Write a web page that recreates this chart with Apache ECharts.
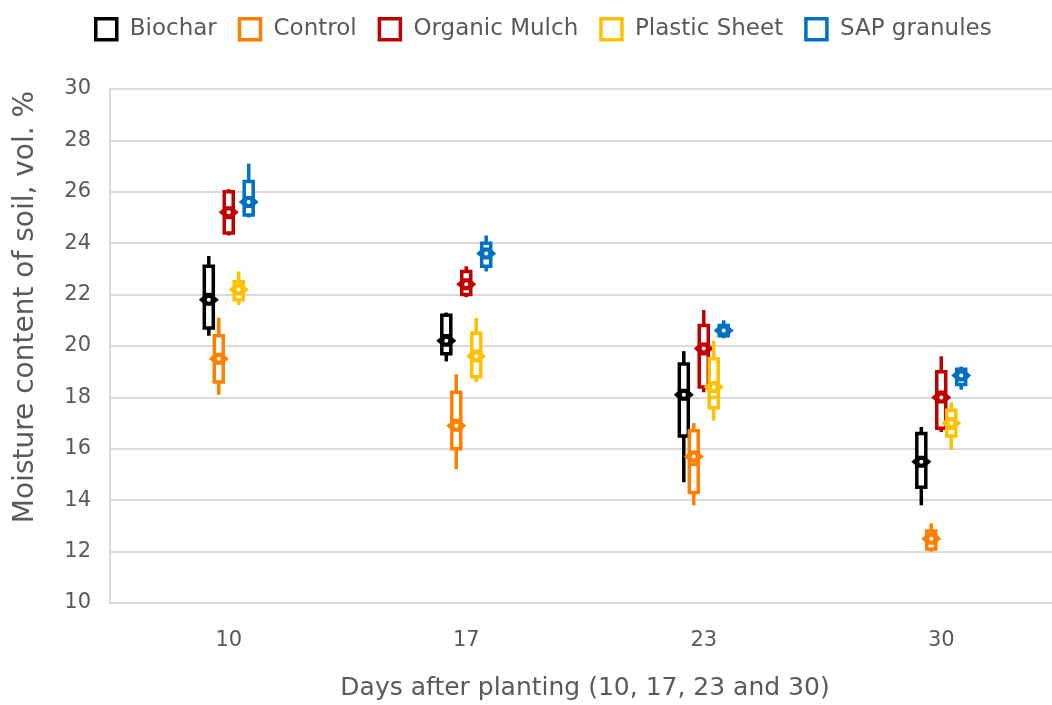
<!DOCTYPE html>
<html><head><meta charset="utf-8">
<script src="https://cdn.jsdelivr.net/npm/echarts@6/dist/echarts.min.js"></script>
<style>html,body{margin:0;padding:0;background:#fff}#c{width:1052px;height:705px}</style>
</head><body><div id="c"></div>
<script>
// Days after planting (category axis)
const categories = ['10', '17', '23', '30'];
const seriesNames = ['Biochar', 'Control', 'Organic Mulch', 'Plastic Sheet', 'SAP granules'];
const colors = ['#000000', '#FF8000', '#C00000', '#FFC000', '#0070C0'];
const yTicks = [10, 12, 14, 16, 18, 20, 22, 24, 26, 28, 30];

// each row: [min, Q1, median, Q3, max, mean] per day
const biochar      = [[20.4, 20.7, 22.0, 23.1, 23.5, 21.8], [19.4, 19.7, 20.4, 21.2, 21.3, 20.2], [14.7, 16.5, 18.2, 19.3, 19.8, 18.1], [13.8, 14.5, 15.6, 16.6, 16.85, 15.5]];
const control      = [[18.1, 18.6, 19.4, 20.4, 21.1, 19.5], [15.2, 16.0, 17.1, 18.2, 18.9, 16.9], [13.8, 14.3, 15.4, 16.7, 17.0, 15.7], [12.0, 12.1, 12.4, 12.8, 13.1, 12.5]];
const organicMulch = [[24.3, 24.4, 25.0, 26.0, 26.1, 25.2], [21.9, 22.0, 22.4, 22.9, 23.1, 22.4], [18.2, 18.4, 19.7, 20.8, 21.4, 19.9], [16.65, 16.8, 18.2, 19.0, 19.6, 18.0]];
const plasticSheet = [[21.6, 21.8, 22.2, 22.5, 22.9, 22.2], [18.6, 18.8, 19.8, 20.5, 21.1, 19.6], [17.1, 17.6, 18.0, 19.5, 20.2, 18.4], [15.95, 16.5, 16.8, 17.5, 17.8, 17.0]];
const sapGranules  = [[25.0, 25.1, 25.6, 26.4, 27.1, 25.6], [22.9, 23.1, 23.6, 24.0, 24.3, 23.6], [20.3, 20.4, 20.6, 20.8, 21.0, 20.6], [18.3, 18.5, 18.9, 19.1, 19.2, 18.85]];
const allData = [biochar, control, organicMulch, plasticSheet, sapGranules];

const FONT = 'DejaVu Sans';
const TXT = '#595959';

function makeRender(color) {
  return function (params, api) {
    const idx = params.seriesIndex;
    const xi = api.value(0);
    const band = api.size([1, 0])[0];
    const off = (idx - 2) * band * 0.042;
    const py = v => api.coord([xi, v])[1];
    const cx = api.coord([xi, api.value(1)])[0] + off;
    const yMin = py(api.value(1)), yQ1 = py(api.value(2)), yMed = py(api.value(3)),
          yQ3 = py(api.value(4)), yMax = py(api.value(5)), yMean = py(api.value(6));
    const hw = 4.5;
    const lw = 3.5;
    const stroke = { stroke: color, lineWidth: lw, fill: null };
    return {
      type: 'group',
      children: [
        { type: 'line', shape: { x1: cx, y1: yMax, x2: cx, y2: yQ3 }, style: stroke },
        { type: 'line', shape: { x1: cx, y1: yQ1, x2: cx, y2: yMin }, style: stroke },
        { type: 'rect', shape: { x: cx - hw, y: yQ3, width: hw * 2, height: yQ1 - yQ3 }, style: { stroke: color, lineWidth: lw, fill: '#fff' } },
        { type: 'line', shape: { x1: cx - hw, y1: yMed, x2: cx + hw, y2: yMed }, style: stroke },
        { type: 'polygon', shape: { points: [[cx - 10, yMean], [cx - 3, yMean - 6], [cx + 3, yMean - 6], [cx + 10, yMean], [cx + 3, yMean + 6], [cx - 3, yMean + 6]] }, style: { fill: color } },
        { type: 'circle', shape: { cx: cx, cy: yMean, r: 2 }, style: { fill: '#fff' } }
      ]
    };
  };
}

const series = seriesNames.map((name, i) => ({
  name: name,
  type: 'custom',
  renderItem: makeRender(colors[i]),
  itemStyle: { color: colors[i] },
  encode: { x: 0, y: [1, 2, 3, 4, 5, 6] },
  data: allData[i].map((r, d) => [d].concat(r)),
  z: 10 + i
}));

const chart = echarts.init(document.getElementById('c'));
chart.setOption({
  animation: false,
  textStyle: { fontFamily: FONT },
  legend: {
    top: 12,
    left: 89,
    itemWidth: 21,
    itemHeight: 21,
    itemGap: 21,
    textStyle: { fontFamily: FONT, fontSize: 23, color: TXT, padding: [0, 0, 0, 8] },
    data: seriesNames.map((n, i) => ({ name: n, icon: 'rect', itemStyle: { color: '#fff', borderColor: colors[i], borderWidth: 3.5 } }))
  },
  grid: { left: 110, top: 89, right: -8, bottom: 102, containLabel: false, outerBoundsMode: 'none' },
  xAxis: {
    type: 'category',
    data: categories,
    name: 'Days after planting (10, 17, 23 and 30)',
    nameLocation: 'middle',
    nameGap: 73,
    nameTextStyle: { fontFamily: FONT, fontSize: 25, color: TXT },
    axisLine: { lineStyle: { color: '#d9d9d9', width: 2 } },
    axisTick: { show: false },
    axisLabel: { margin: 27, fontFamily: FONT, fontSize: 21, color: TXT }
  },
  yAxis: {
    type: 'value',
    min: 10, max: 30, interval: 2,
    name: 'Moisture content of soil, vol. %',
    nameLocation: 'middle',
    nameGap: 70,
    nameTextStyle: { fontFamily: FONT, fontSize: 28, color: TXT, padding: [0, 0, 0, 78] },
    axisLine: { show: true, lineStyle: { color: '#d9d9d9', width: 2 } },
    axisTick: { show: false },
    splitLine: { lineStyle: { color: '#d9d9d9', width: 2 } },
    axisLabel: { margin: 19, fontFamily: FONT, fontSize: 21, color: TXT,
      formatter: v => yTicks.indexOf(v) >= 0 ? String(v) : '' }
  },
  series: series
});
</script></body></html>
